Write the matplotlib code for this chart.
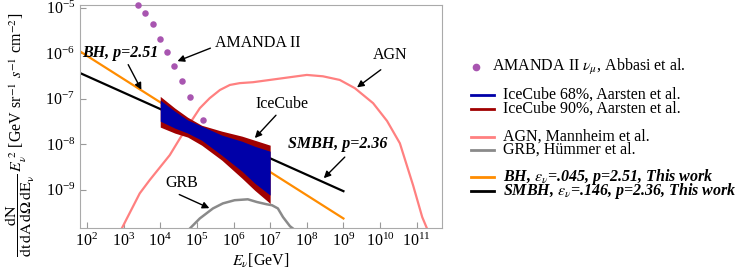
import numpy as np
import matplotlib
matplotlib.use("Agg")
import matplotlib.pyplot as plt
from matplotlib.lines import Line2D

plt.rcParams['font.family'] = 'serif'
plt.rcParams['font.serif'] = ['Liberation Serif', 'DejaVu Serif']
plt.rcParams['mathtext.fontset'] = 'stix'
plt.rcParams['font.size'] = 11

# AMANDA II nu_mu upper limits (GeV, GeV sr^-1 s^-1 cm^-2)
amanda_E = [2.43e3, 3.78e3, 6.24e3, 9.7e3, 1.51e4, 2.34e4, 3.87e4, 6.4e4, 1.45e5]
amanda_flux = [1.13e-5, 7.6e-6, 4.3e-6, 2.0e-6, 1.05e-6, 5.2e-7, 2.4e-7, 1.08e-7, 3.4e-8]

# IceCube bands (68% and 90%)
icecube_E = [1e4, 2.5e4, 5.6e4, 1.35e5, 4.8e5, 1.7e6, 3.8e6, 1e7]
ic90_hi = [1.12e-7, 6.2e-8, 3.9e-8, 2.6e-8, 1.93e-8, 1.5e-8, 1.22e-8, 9.5e-9]
ic68_hi = [9.3e-8, 5.3e-8, 3.4e-8, 2.5e-8, 1.58e-8, 1.16e-8, 9.0e-9, 7.0e-9]
ic68_lo = [3.2e-8, 2.25e-8, 1.75e-8, 1.22e-8, 5.7e-9, 2.55e-9, 1.39e-9, 7.6e-10]
ic90_lo = [2.37e-8, 1.75e-8, 1.43e-8, 9.5e-9, 4.45e-9, 1.79e-9, 9.7e-10, 5.0e-10]

# AGN, Mannheim et al. (log10 E, log10 flux)
agn_logE = [2.95, 3.44, 3.71, 4.0, 4.26, 4.54, 4.81, 5.08, 5.35, 5.63, 5.9, 6.17, 6.53,
            6.99, 7.54, 8.0, 8.44, 8.9, 9.31, 9.81, 10.19, 10.54, 10.9, 11.15, 11.28]
agn_logF = [-9.85, -9.08, -8.79, -8.5, -8.24, -7.87, -7.54, -7.21, -6.99, -6.81, -6.70, -6.66, -6.64,
            -6.59, -6.53, -6.48, -6.51, -6.59, -6.77, -7.10, -7.49, -7.98, -8.90, -9.60, -9.85]

# GRB, Huemmer et al. (log10 E, log10 flux)
grb_logE = [4.81, 5.08, 5.44, 5.71, 6.03, 6.39, 6.64, 6.91, 7.05, 7.21, 7.35, 7.54, 7.62]
grb_logF = [-9.85, -9.63, -9.41, -9.30, -9.23, -9.21, -9.27, -9.32, -9.34, -9.41, -9.60, -9.80, -9.85]

# This work: power laws
bh_E = [50, 1e9]
bh_flux = [1.24e-6, 2.34e-10]
smbh_E = [50, 1e9]
smbh_flux = [4.0e-7, 9.3e-10]

fig = plt.figure(figsize=(7.47, 2.75), dpi=100)
W, H = 747, 275
ax = fig.add_axes([80 / W, 1 - 228 / H, (442 - 80) / W, (228 - 5) / H])

ax.plot(bh_E, bh_flux, color='#ff8c00', lw=1.6, zorder=2)
ax.plot(smbh_E, smbh_flux, color='black', lw=1.6, zorder=2)
ax.plot(10 ** np.array(agn_logE), 10 ** np.array(agn_logF), color='#ff8080', lw=1.6, zorder=3)
ax.plot(10 ** np.array(grb_logE), 10 ** np.array(grb_logF), color='#8a8a8a', lw=1.8, zorder=3)
ax.fill_between(icecube_E, ic90_lo, ic90_hi, color='#a00000', lw=0, zorder=4)
ax.fill_between(icecube_E, ic68_lo, ic68_hi, color='#0000a8', lw=0, zorder=5)
ax.scatter(amanda_E, amanda_flux, s=22, color='#a855b0', lw=0, zorder=6, clip_on=False)

ax.set_xscale('log')
ax.set_yscale('log')
ax.set_xlim(10**1.81, 10**11.69)
ax.set_ylim(10**-9.84, 10**-4.945)
ax.set_xticks([10.0**k for k in range(2, 12)])
ax.set_yticks([10.0**k for k in range(-9, -4)])
ax.minorticks_off()
ax.tick_params(direction='in', length=4, color='#999999', labelsize=11.5)
for s in ax.spines.values():
    s.set_color('#aaaaaa')
    s.set_linewidth(0.8)

ax.set_xlabel(r'$E_\nu$[GeV]', fontsize=11.5, labelpad=1)
fig.text(20 / W, 1 - 135 / H,
         r'$\dfrac{\mathrm{dN}}{\mathrm{dt\,dA\,d\Omega\,dE_\nu}}\,E_\nu^{\ 2}$ [GeV sr$^{-1}$ $s^{-1}$ cm$^{-2}$]',
         rotation=90, ha='center', va='center', fontsize=11.5)

arrow = dict(arrowstyle='-|>', color='black', lw=1.0, mutation_scale=10)

def label(text, pos, tail, tip, bold=False):
    kw = dict(fontweight='bold', style='italic') if bold else {}
    ax.text(10 ** pos[0], 10 ** pos[1], text, ha='center', va='center', fontsize=11.5, zorder=8, **kw)
    ax.annotate('', xy=(10 ** tip[0], 10 ** tip[1]), xytext=(10 ** tail[0], 10 ** tail[1]),
                arrowprops=arrow, zorder=8)

label('BH, p=2.51', (2.92, -6.0), (3.09, -6.2), (3.52, -6.86), bold=True)
label('AMANDA II', (6.66, -5.78), (5.44, -5.87), (4.40, -6.20))
label('AGN', (10.27, -6.04), (10.08, -6.33), (9.31, -6.79))
label('IceCube', (7.32, -7.12), (7.21, -7.32), (6.53, -7.91))
label('SMBH, p=2.36', (8.85, -8.0), (9.09, -8.24), (8.41, -8.79), bold=True)
label('GRB', (4.59, -8.86), (4.45, -9.08), (5.41, -9.43))

# legend drawn by hand to keep the grouped spacing
fig.add_artist(Line2D([476 / W], [1 - 67 / H], marker='o', color='#a855b0', ms=4.5, ls='None'))
fig.text(492 / W, 1 - 67 / H, r'AMANDA II $\nu_\mu$, Abbasi et al.', va='center', fontsize=11.5)
legend_rows = [
    (95, '#0000a8', 'IceCube 68%, Aarsten et al.', False),
    (109, '#a00000', 'IceCube 90%, Aarsten et al.', False),
    (137, '#ff8080', 'AGN, Mannheim et al.', False),
    (150, '#8a8a8a', 'GRB, Hümmer et al.', False),
    (177, '#ff8c00', r'BH, $\epsilon_\nu$=.045, p=2.51, This work', True),
    (191, 'black', r'SMBH, $\epsilon_\nu$=.146, p=2.36, This work', True),
]
for y, c, txt, bold in legend_rows:
    fig.add_artist(Line2D([471 / W, 494 / W], [1 - y / H, 1 - y / H], color=c, lw=2.0))
    kw = dict(fontweight='bold', style='italic') if bold else {}
    fig.text(503 / W, 1 - y / H, txt, va='center', fontsize=11.5, **kw)

fig.savefig('out.png', dpi=100)
